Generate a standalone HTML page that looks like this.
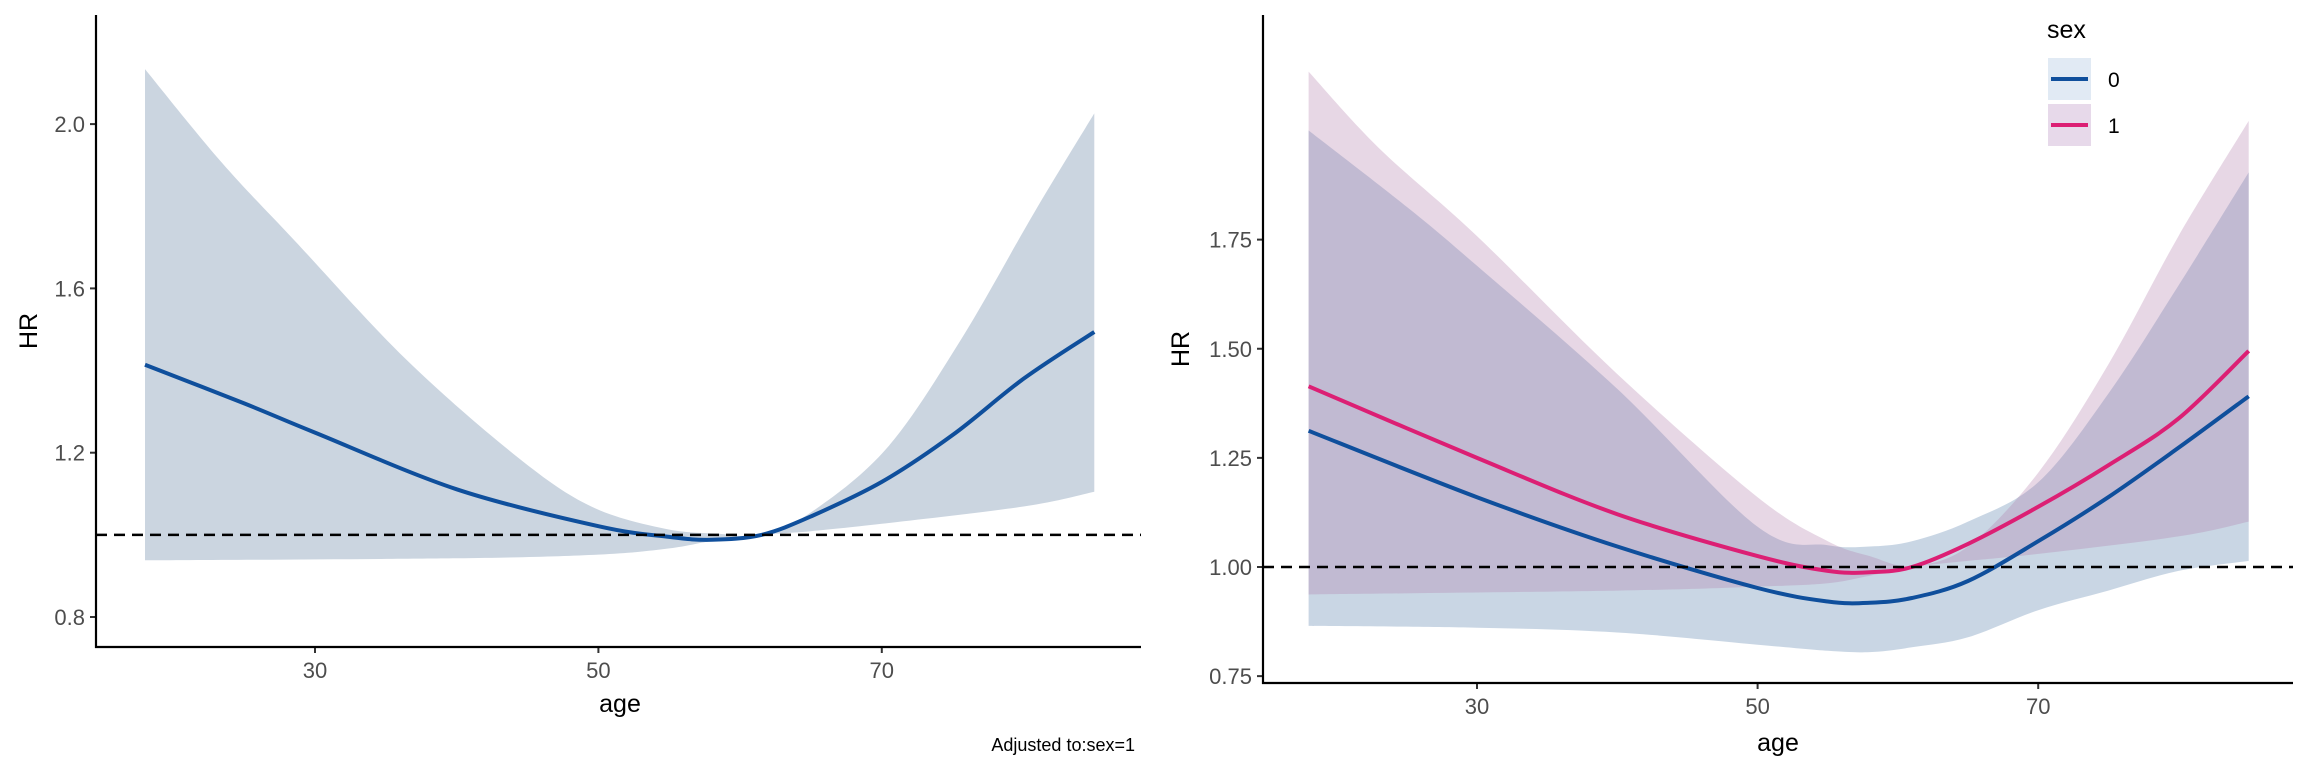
<!DOCTYPE html>
<html><head><meta charset="utf-8"><style>
html,body{margin:0;padding:0;background:#fff;}
svg{display:block;font-family:"Liberation Sans",Arial,sans-serif;}
</style></head><body>
<svg id="chart" width="2304" height="768" viewBox="0 0 2304 768"></svg>
<script>
// ---- Left panel data ----
const ageL = [18, 23.4, 28.6, 36.4, 44.3, 49.5, 54.7, 58.4, 61.5, 65.1, 70.4, 75.6, 80.8, 85];
const upperL = [2.134, 1.907, 1.715, 1.428, 1.189, 1.069, 1.015, 1.003, 1.0, 1.057, 1.213, 1.476, 1.787, 2.026];
const lowerAgeL = [18, 40, 50, 55, 58, 61.5, 65, 70, 80, 85];
const lowerL = [0.938, 0.943, 0.952, 0.967, 0.985, 1.0, 1.009, 1.027, 1.069, 1.105];
const lineAgeL = [18, 25, 30, 40, 50, 55, 58, 61.5, 65, 70, 75, 80, 85];
const lineL = [1.414, 1.32, 1.249, 1.111, 1.021, 0.995, 0.988, 1.0, 1.045, 1.129, 1.243, 1.38, 1.494];
const yTicksL = [0.8, 1.2, 1.6, 2.0];
const yTickLabelsL = ["0.8", "1.2", "1.6", "2.0"];
// ---- Right panel data ----
const ageR = [18, 30, 40, 50, 55, 58, 61, 65, 70, 75, 80, 85];
const line1R = [1.414, 1.25, 1.121, 1.025, 0.991, 0.988, 1.0, 1.053, 1.138, 1.233, 1.34, 1.495];
const line0R = [1.312, 1.16, 1.047, 0.952, 0.921, 0.918, 0.929, 0.968, 1.059, 1.16, 1.273, 1.391];
const up1AgeR = [18, 23, 30, 40, 50, 55, 58, 61, 65, 70, 75, 80, 85];
const up1R = [2.135, 1.96, 1.758, 1.442, 1.16, 1.059, 1.025, 1.002, 1.047, 1.216, 1.464, 1.758, 2.022];
const lo1AgeR = [18, 40, 50, 55, 58, 61, 65, 70, 80, 85];
const lo1R = [0.937, 0.946, 0.955, 0.963, 0.98, 1.0, 1.014, 1.03, 1.07, 1.104];
const up0AgeR = [18, 25, 30, 40, 50, 55, 58, 61, 65, 70, 75, 80, 85];
const up0R = [2.0, 1.825, 1.69, 1.408, 1.092, 1.05, 1.047, 1.059, 1.104, 1.194, 1.397, 1.645, 1.904];
const lo0R = [0.865, 0.861, 0.85, 0.822, 0.808, 0.805, 0.816, 0.839, 0.901, 0.946, 0.991, 1.014];
const yTicksR = [0.75, 1.0, 1.25, 1.5, 1.75];
const yTickLabelsR = ["0.75", "1.00", "1.25", "1.50", "1.75"];
const xTicks = [30, 50, 70];
const xTickLabels = ["30", "50", "70"];
const refHR = 1.0;

const NS = "http://www.w3.org/2000/svg";
const svg = document.getElementById("chart");
function mk(tag, attrs, parent) {
  const e = document.createElementNS(NS, tag);
  for (const k in attrs) e.setAttribute(k, attrs[k]);
  (parent || svg).appendChild(e);
  return e;
}
function mkText(str, x, y, size, parent, anchor, color) {
  const t = mk("text", {x: x, y: y, "font-size": size, fill: color || "#4d4d4d", "text-anchor": anchor || "middle"}, parent);
  t.textContent = str;
  return t;
}
function xScale(p) { return a => p.x30 + (a - 30) * p.pxPerYear; }
function yScale(p) { return v => p.y0 - (v - p.v0) * p.pxPerUnit; }
function pts(xs, ys, sx, sy) { return xs.map((a, i) => [sx(a), sy(ys[i])]); }
// Catmull-Rom smooth path through points
function smooth(P, moveFirst) {
  let d = (moveFirst ? "M" : "L") + P[0][0].toFixed(1) + "," + P[0][1].toFixed(1);
  for (let i = 0; i < P.length - 1; i++) {
    const p0 = P[Math.max(0, i - 1)], p1 = P[i], p2 = P[i + 1], p3 = P[Math.min(P.length - 1, i + 2)];
    const c1x = p1[0] + (p2[0] - p0[0]) / 6, c1y = p1[1] + (p2[1] - p0[1]) / 6;
    const c2x = p2[0] - (p3[0] - p1[0]) / 6, c2y = p2[1] - (p3[1] - p1[1]) / 6;
    d += " C" + c1x.toFixed(1) + "," + c1y.toFixed(1) + " " + c2x.toFixed(1) + "," + c2y.toFixed(1) + " " + p2[0].toFixed(1) + "," + p2[1].toFixed(1);
  }
  return d;
}
function linePath(xs, ys, sx, sy) { return smooth(pts(xs, ys, sx, sy), true); }
function bandPath(xu, yu, xl, yl, sx, sy) {
  const up = pts(xu, yu, sx, sy);
  const lo = pts(xl, yl, sx, sy).reverse();
  return smooth(up, true) + " " + smooth(lo, false) + " Z";
}
function axes(g, p, sx, sy, yTicks, yLabels) {
  for (let i = 0; i < yTicks.length; i++) {
    const y = sy(yTicks[i]);
    const tk = mk("line", {x1: p.left - 6, x2: p.left, y1: y, y2: y, stroke: "#333", "stroke-width": 2}, g);
    
    
    const lb = mkText(yLabels[i], p.left - 11, y + 8, 22, g, "end");
    
    
  }
  for (let i = 0; i < xTicks.length; i++) {
    const x = sx(xTicks[i]);
    const tk = mk("line", {x1: x, x2: x, y1: p.bottom, y2: p.bottom + 6, stroke: "#333", "stroke-width": 2}, g);
    
    
    const lb = mkText(xTickLabels[i], x, p.bottom + 31, 22, g);
    
    
  }
  const ya = mk("line", {x1: p.left, x2: p.left, y1: p.top, y2: p.bottom + 1, stroke: "#000", "stroke-width": 2.2}, g);
  
  
  const xa = mk("line", {x1: p.left - 1, x2: p.right, y1: p.bottom, y2: p.bottom, stroke: "#000", "stroke-width": 2.2}, g);
  
  
}

// ---------- Left panel ----------
const pL = {left: 96, right: 1141, top: 15, bottom: 647, x30: 315, pxPerYear: 14.17, y0: 617, v0: 0.8, pxPerUnit: 410.75};
const sxL = xScale(pL), syL = yScale(pL);
const gL = mk("g", {});


const bL = mk("path", {d: bandPath(ageL, upperL, lowerAgeL, lowerL, sxL, syL), fill: "#cbd5e0"}, gL);


const lL = mk("path", {d: linePath(lineAgeL, lineL, sxL, syL), fill: "none", stroke: "#0f4f9c", "stroke-width": 4}, gL);


const rL = mk("line", {x1: pL.left, x2: pL.right, y1: syL(refHR), y2: syL(refHR), stroke: "#000", "stroke-width": 2.5, "stroke-dasharray": "11,7"}, gL);


axes(gL, pL, sxL, syL, yTicksL, yTickLabelsL);
const ylL = mkText("HR", 0, 0, 25, gL, "middle", "#000");
ylL.setAttribute("transform", "translate(37,331) rotate(-90)");


const xlL = mkText("age", 620, 712, 25, gL, "middle", "#000");


const cap = mkText("Adjusted to:sex=1", 1135, 751, 18, gL, "end", "#000");



// ---------- Right panel ----------
const pR = {left: 1263, right: 2293, top: 15, bottom: 683, x30: 1477, pxPerYear: 14.03, y0: 567, v0: 1.0, pxPerUnit: 436.5};
const sxR = xScale(pR), syR = yScale(pR);
const gR = mk("g", {});


const b0 = mk("path", {d: bandPath(up0AgeR, up0R, ageR, lo0R, sxR, syR), fill: "#164f8c", "fill-opacity": 0.23}, gR);


const b1 = mk("path", {d: bandPath(up1AgeR, up1R, lo1AgeR, lo1R, sxR, syR), fill: "#b07aa8", "fill-opacity": 0.3}, gR);


const l0 = mk("path", {d: linePath(ageR, line0R, sxR, syR), fill: "none", stroke: "#0f4f9c", "stroke-width": 4}, gR);


const l1 = mk("path", {d: linePath(ageR, line1R, sxR, syR), fill: "none", stroke: "#dc1f74", "stroke-width": 4}, gR);


const rR = mk("line", {x1: pR.left, x2: pR.right, y1: syR(refHR), y2: syR(refHR), stroke: "#000", "stroke-width": 2.5, "stroke-dasharray": "11,7"}, gR);


axes(gR, pR, sxR, syR, yTicksR, yTickLabelsR);
const ylR = mkText("HR", 0, 0, 25, gR, "middle", "#000");
ylR.setAttribute("transform", "translate(1189,349) rotate(-90)");


const xlR = mkText("age", 1778, 751, 25, gR, "middle", "#000");



// legend
const lg = mk("g", {});


const lt = mkText("sex", 2047, 38, 25, lg, "start", "#000");


const legColors = ["#0f4f9c", "#dc1f74"];
const legFills = ["#e1eaf4", "#e7d9ea"];
const legLabels = ["0", "1"];
for (let i = 0; i < 2; i++) {
  const y = 58 + i * 46;
  const k = mk("rect", {x: 2048, y: y, width: 43, height: 42, fill: legFills[i]}, lg);
  
  
  const ln = mk("line", {x1: 2051, x2: 2088, y1: y + 21, y2: y + 21, stroke: legColors[i], "stroke-width": 4}, lg);
  
  
  const tx = mkText(legLabels[i], 2108, y + 29, 21, lg, "start", "#000");
  
  
}
</script>
</body></html>
